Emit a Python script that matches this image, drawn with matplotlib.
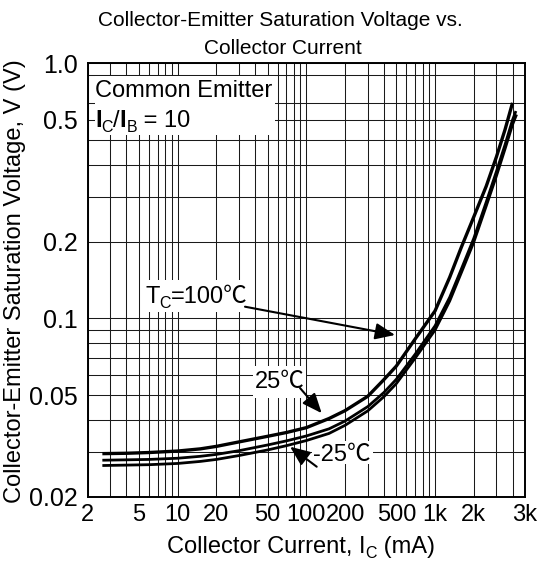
import matplotlib
matplotlib.use('Agg')
import matplotlib.pyplot as plt
from matplotlib.ticker import FixedLocator, NullFormatter
from matplotlib.transforms import IdentityTransform
from matplotlib.patches import Rectangle

# ---------------- data ----------------
ic_100c = [2.6, 4, 6, 10, 15, 20, 30, 50, 70, 100, 150, 200, 300, 400, 500,
           700, 1000, 1300, 1600, 2000, 2500, 3000, 3500, 4000]
vce_100c = [0.0295, 0.0296, 0.0298, 0.0302, 0.0308, 0.0315, 0.0328, 0.0345,
            0.0357, 0.0373, 0.0405, 0.0435, 0.0495, 0.0575, 0.065, 0.083,
            0.107, 0.145, 0.19, 0.25, 0.33, 0.43, 0.55, 0.70]

ic_25c = [2.6, 4, 6, 10, 15, 20, 30, 50, 70, 100, 150, 200, 300, 400, 500,
          700, 1000, 1300, 1600, 2000, 2500, 3000, 3500, 4000, 4250]
vce_25c = [0.0278, 0.0279, 0.0280, 0.0283, 0.0288, 0.0293, 0.0303, 0.0319,
           0.0331, 0.0346, 0.0369, 0.0396, 0.0451, 0.0512, 0.0577, 0.0723,
           0.0935, 0.121, 0.156, 0.206, 0.286, 0.377, 0.48, 0.60, 0.65]

ic_m25c = [2.6, 4, 6, 10, 15, 20, 30, 50, 70, 100, 150, 200, 300, 400, 500,
           700, 1000, 1300, 1600, 2000, 2500, 3000, 3500, 4000, 4300]
vce_m25c = [0.0265, 0.0266, 0.0267, 0.0270, 0.0275, 0.0280, 0.0290, 0.0305,
            0.0317, 0.0332, 0.0354, 0.0381, 0.0434, 0.0493, 0.0555, 0.0698,
            0.090, 0.117, 0.151, 0.199, 0.276, 0.362, 0.462, 0.575, 0.63]

x_tick_pos = [2, 5, 10, 20, 50, 100, 200, 500, 1000, 2000, 5000]
x_tick_labels = ['2', '5', '10', '20', '50', '100', '200', '500', '1k', '2k', '3k']
y_tick_pos = [0.02, 0.05, 0.1, 0.2, 0.6, 1.0]
y_tick_labels = ['0.02', '0.05', '0.1', '0.2', '0.5', '1.0']
y_grid = [0.03, 0.04, 0.05, 0.06, 0.07, 0.08, 0.09, 0.1,
          0.2, 0.3, 0.4, 0.5, 0.6, 0.7, 0.9]
x_grid = [m * 10 ** e for e in range(0, 4) for m in range(1, 10)
          if 2 < m * 10 ** e < 5000]

# ---------------- style ----------------
W, H = 542, 561
FAM = ['Liberation Sans', 'Noto Sans CJK JP', 'DejaVu Sans']
plt.rcParams['font.family'] = FAM
plt.rcParams['mathtext.fontset'] = 'custom'
plt.rcParams['mathtext.rm'] = 'Liberation Sans'
FS = 17

fig = plt.figure(figsize=(W / 100, H / 100), dpi=100)
ax = fig.add_axes([87.7 / W, 1 - 496.7 / H, (525 - 87.7) / W, (496.7 - 63.3) / H])
ax.set_xscale('log')
ax.set_yscale('log')
ax.set_xlim(2, 5000)
ax.set_ylim(0.02, 1.0)

ax.xaxis.set_major_locator(FixedLocator(x_tick_pos))
ax.set_xticklabels(x_tick_labels)
ax.xaxis.set_minor_locator(FixedLocator(x_grid))
ax.xaxis.set_minor_formatter(NullFormatter())
ax.yaxis.set_major_locator(FixedLocator(y_tick_pos))
ax.set_yticklabels(y_tick_labels)
ax.yaxis.set_minor_locator(FixedLocator(y_grid))
ax.yaxis.set_minor_formatter(NullFormatter())
ax.tick_params(which='both', length=0)
ax.tick_params(axis='x', pad=5, labelsize=17)
ax.tick_params(axis='y', pad=7, labelsize=18)
ax.grid(which='both', color='#1a1a1a', lw=0.75, zorder=1)
ax.set_axisbelow(True)
for s in ax.spines.values():
    s.set_linewidth(1.4)
    s.set_color('black')

# curves
for xs, ys, lw in [(ic_100c, vce_100c, 2.4), (ic_25c, vce_25c, 2.0),
                   (ic_m25c, vce_m25c, 2.0)]:
    ax.plot(xs, ys, color='black', lw=lw, zorder=4, solid_capstyle='butt')

# ---------------- text helpers ----------------
fig.canvas.draw()
renderer = fig.canvas.get_renderer()


def rich_text(x_px, base_px, pieces, size=FS):
    """Draw text pieces left to right; pixel coords with origin at top-left."""
    x = x_px
    for s, kind, weight in pieces:
        fs = size * 0.68 if kind == 'sub' else size
        drop = size * 100 / 72 * 0.2 if kind == 'sub' else 0
        t = ax.text(x, H - base_px - drop, s, transform=IdentityTransform(),
                    fontsize=fs, fontweight=weight, ha='left', va='baseline',
                    zorder=6, clip_on=False)
        bb = t.get_window_extent(renderer)
        x += bb.width
    return x


def white_box(x0, y0, x1, y1):
    ax.add_patch(Rectangle((x0, H - y1), x1 - x0, y1 - y0,
                           transform=IdentityTransform(), fc='white',
                           ec='none', zorder=3))


# Common emitter box
white_box(95, 76, 275, 135)
rich_text(95, 97, [('Common Emitter', 'n', 'normal')])
rich_text(95, 127, [('I', 'n', 'bold'), ('C', 'sub', 'normal'), ('/', 'n', 'normal'),
                    ('I', 'n', 'bold'), ('B', 'sub', 'normal'), (' = 10', 'n', 'normal')])

# T_C = 100 C
white_box(142, 280, 248, 312)
rich_text(145, 303, [('T', 'n', 'normal'), ('C', 'sub', 'normal'), ('=100℃', 'n', 'normal')])

# 25 C
white_box(253, 366, 306, 398)
rich_text(255, 388, [('25℃', 'n', 'normal')])

# -25 C
white_box(312, 441, 373, 464)
rich_text(313, 461, [('-25℃', 'n', 'normal')])

# arrows (tips at the curves, tails at the labels)
arrow_kw = dict(arrowstyle='-|>,head_length=0.6,head_width=0.25', color='black',
                lw=1.5, mutation_scale=20, shrinkA=0, shrinkB=0)


def px2frac(px, py):
    return ((px - 87.7) / 437.3, (496.7 - py) / 433.4)


ax.annotate('', xy=(489, 0.0861), xycoords='data',
            xytext=px2frac(245, 306.7), textcoords='axes fraction',
            arrowprops=arrow_kw, zorder=5)
ax.annotate('', xy=(131.6, 0.0425), xycoords='data',
            xytext=px2frac(300, 388), textcoords='axes fraction',
            arrowprops=arrow_kw, zorder=5)
ax.annotate('', xy=(74.7, 0.0314), xycoords='data',
            xytext=px2frac(316.7, 466.7), textcoords='axes fraction',
            arrowprops=arrow_kw, zorder=5)

# titles and axis labels
fig.text(280 / W, 1 - 26 / H, 'Collector-Emitter Saturation Voltage vs.',
         ha='center', va='baseline', fontsize=15)
fig.text(283 / W, 1 - 54 / H, 'Collector Current',
         ha='center', va='baseline', fontsize=15)
fig.text(15 / W, 1 - 281 / H, 'Collector-Emitter Saturation Voltage, V (V)',
         rotation=90, ha='center', va='center', fontsize=FS)
rich_text(167, 553, [('Collector Current, I', 'n', 'normal'), ('C', 'sub', 'normal'),
                     (' (mA)', 'n', 'normal')])

fig.savefig('out.png', dpi=100)
